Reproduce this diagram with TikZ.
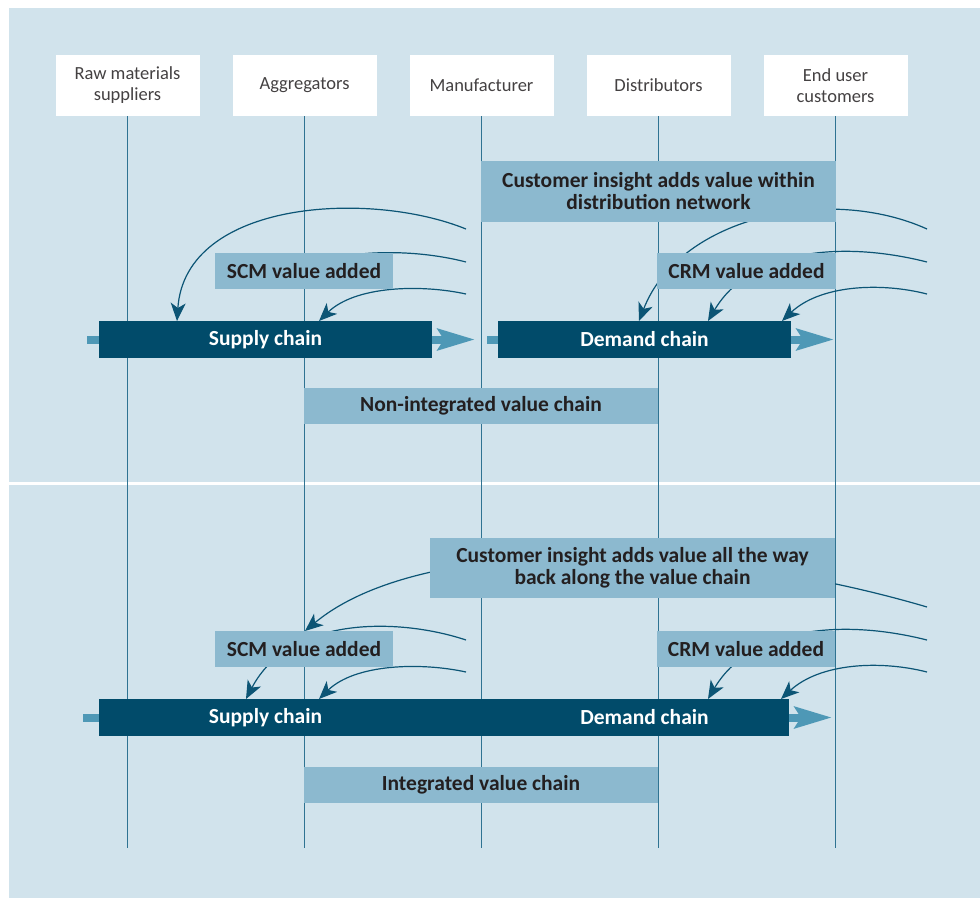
\documentclass[tikz,border=0pt]{standalone}
\usepackage{fontspec}
\setmainfont{Carlito}
\usetikzlibrary{positioning, arrows.meta}
\definecolor{panelbg}{HTML}{D1E3EC}
\definecolor{boxblue}{HTML}{8CB9CF}
\definecolor{barblue}{HTML}{014B6A}
\definecolor{flowblue}{HTML}{4E98B6}
\definecolor{curveblue}{HTML}{0C5575}
\definecolor{gridblue}{HTML}{2F7392}
\definecolor{inkgray}{HTML}{231F20}
\pgfdeclarelayer{back}
\pgfdeclarelayer{mid}
\pgfsetlayers{back,mid,main}

\begin{document}
\begin{tikzpicture}[x=1pt, y=-1pt,
    every node/.style={inner sep=0pt, outer sep=0pt},
    party/.style={fill=white, minimum width=144pt, minimum height=61pt, align=center, text=inkgray!85, font=\fontsize{18.5}{21}\selectfont},
    tag/.style={fill=boxblue, minimum height=36pt, align=center, text=inkgray, font=\fontsize{21.5}{22}\selectfont\bfseries},
    chainbar/.style={fill=barblue, minimum height=37pt, text=white, font=\fontsize{21.5}{22}\selectfont\bfseries},
    bartext/.style={text=white, font=\fontsize{21.5}{22}\selectfont\bfseries},
    vline/.style={draw=gridblue, line width=1.2pt},
    curve/.style={draw=curveblue, line width=1.2pt},
    valarrow/.style={curve, -{Stealth[length=18pt, width=15pt, inset=5pt]}},
    flow/.style={draw=flowblue, line width=8pt, -{Stealth[length=37pt, width=21pt, inset=6pt]}}
]
\useasboundingbox (0,0) rectangle (980,898);

% parties
\node[party] (rawm) at (127.5,85.5) {Raw materials\\suppliers};
\node[party, right=33pt of rawm] (aggr) {Aggregators};
\node[party, right=33pt of aggr] (manu) {Manufacturer};
\node[party, right=33pt of manu] (dist) {Distributors};
\node[party, right=33pt of dist] (endu) {End user\\customers};
\coordinate (bot) at (0,848);

% non-integrated value chain
\node[tag, minimum width=355pt, minimum height=61pt] (insightA) at (658.5,191.5) {Customer insight adds value within\\distribution network};
\node[tag, minimum width=178pt] (scmA) at (304,271) {SCM value added};
\node[tag, minimum width=179pt] (crmA) at (746.5,271) {CRM value added};
\node[chainbar, minimum width=333pt] (supA) at (265.5,339.5) {Supply chain};
\node[chainbar, minimum width=293pt] (demA) at (644.5,339.5) {Demand chain};
\node[tag, minimum width=354pt] (nonint) at (481,406) {Non-integrated value chain};

% integrated value chain
\node[tag, minimum width=405pt, minimum height=60pt] (insightB) at (632.5,568) {Customer insight adds value all the way\\back along the value chain};
\node[tag, minimum width=178pt] (scmB) at (304,649) {SCM value added};
\node[tag, minimum width=178pt] (crmB) at (746,649) {CRM value added};
\node[chainbar, minimum width=690pt] (chainB) at (444,717.5) {};
\node[bartext] (supB) at (265.5,717.5) {Supply chain};
\node[bartext] (demB) at (644.5,717.5) {Demand chain};
\node[tag, minimum width=354pt] (integ) at (481,784.5) {Integrated value chain};

% curve ends
\coordinate (sA1) at (466,229);
\coordinate (sA2) at (466,262);
\coordinate (sA3) at (466,294);
\coordinate (dA1) at (927,229);
\coordinate (dA2) at (927,262);
\coordinate (dA3) at (927,294);
\coordinate (hA2) at (320,262);
\coordinate (tS1) at (177,321);
\coordinate (tS3) at (319,321);
\coordinate (tD1) at (639,321);
\coordinate (tD2) at (708,321);
\coordinate (tD3) at (782,321);
\coordinate (sB2) at (466,640);
\coordinate (sB3) at (466,672);
\coordinate (dB1) at (927,607);
\coordinate (dB2) at (927,640);
\coordinate (dB3) at (927,672);
\coordinate (tB1) at (305,631);
\coordinate (tB2) at (246,699);
\coordinate (tB3) at (319,699);
\coordinate (tB4) at (708,699);
\coordinate (tB5) at (781,699);
\coordinate (fA0) at (87,339.5);
\coordinate (fA1) at (475,339.5);
\coordinate (fA2) at (487,339.5);
\coordinate (fA3) at (834,339.5);
\coordinate (fB0) at (83,717.5);
\coordinate (fB1) at (832,717.5);

\begin{pgfonlayer}{back}
\fill[panelbg] (9,8) rectangle (980,898);
\draw[white, line width=3pt] (9,483.5) -- (980,483.5);
\draw[vline] (rawm.south) -- (rawm.south |- bot);
\draw[vline] (aggr.south) -- (aggr.south |- bot);
\draw[vline] (manu.south) -- (manu.south |- bot);
\draw[vline] (dist.south) -- (dist.south |- bot);
\draw[vline] (endu.south) -- (endu.south |- bot);
\end{pgfonlayer}

\begin{pgfonlayer}{mid}
\draw[flow] (fA0) -- (fA1);
\draw[flow] (fA2) -- (fA3);
\draw[flow] (fB0) -- (fB1);

\draw[valarrow] (sA1) .. controls (370,190) and (185,200) .. (tS1);
\draw[curve] (sA2) .. controls (420,250) and (360,249) .. (hA2);
\draw[valarrow] (sA3) .. controls (420,284) and (355,286) .. (tS3);
\draw[valarrow] (dA1) .. controls (830,185) and (680,215) .. (tD1);
\draw[valarrow] (dA2) .. controls (840,240) and (750,250) .. (tD2);
\draw[valarrow] (dA3) .. controls (880,282) and (820,285) .. (tD3);

\draw[valarrow] (dB1) .. controls (700,540) and (420,535) .. (tB1);
\draw[valarrow] (sB2) .. controls (400,618) and (290,615) .. (tB2);
\draw[valarrow] (sB3) .. controls (420,662) and (355,664) .. (tB3);
\draw[valarrow] (dB2) .. controls (840,618) and (750,628) .. (tB4);
\draw[valarrow] (dB3) .. controls (880,660) and (820,663) .. (tB5);
\end{pgfonlayer}
\end{tikzpicture}
\end{document}
